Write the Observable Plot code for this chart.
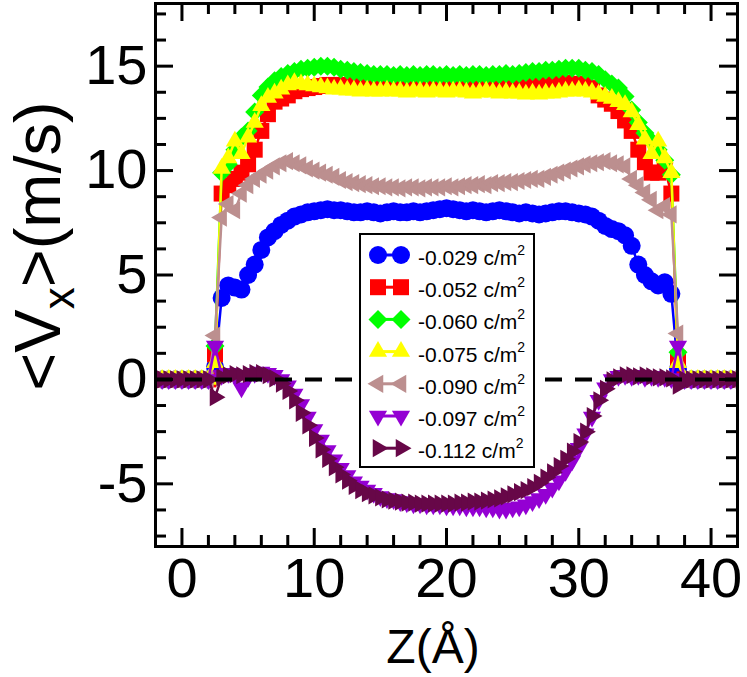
<!DOCTYPE html>
<html>
<head>
<meta charset="utf-8">
<script src="https://cdn.jsdelivr.net/npm/d3@7"></script>
<script src="https://cdn.jsdelivr.net/npm/@observablehq/plot@0.6"></script>
<style>
  body { margin: 0; background: #fff; }
  #chart { width: 747px; height: 677px; }
</style>
</head>
<body>
<div id="chart"></div>
<script>
// ---------- data ----------
const z = [-2,-1.5,-1,-0.5,0,0.5,1,1.5,2,2.5,
  3,3.5,4,4.5,5,5.5,6,6.5,7,7.5,
  8,8.5,9,9.5,10,10.5,11,11.5,12,12.5,
  13,13.5,14,14.5,15,15.5,16,16.5,17,17.5,
  18,18.5,19,19.5,20,20.5,21,21.5,22,22.5,
  23,23.5,24,24.5,25,25.5,26,26.5,27,27.5,
  28,28.5,29,29.5,30,30.5,31,31.5,32,32.5,
  33,33.5,34,34.5,35,35.5,36,36.5,37,37.5,
  38,38.5,39,39.5,40,40.5,41,41.5,42];

const seriesLabels = ["-0.029", "-0.052", "-0.060", "-0.075", "-0.090", "-0.097", "-0.112"];

const v029 = [0,0,0,0,0,0,0,0,0,0.6,
  3.9,4.5,4.4,4.3,5.0,5.5,6.2,6.8,7.1,7.4,
  7.6,7.8,7.9,8.0,8.05,8.1,8.15,8.1,8.1,8.05,
  8.0,8.0,8.05,8.0,7.95,8.0,8.05,8.0,8.0,8.05,
  8.0,8.05,8.1,8.15,8.2,8.15,8.1,8.05,8.1,8.05,
  8.0,8.05,8.1,8.05,8.0,7.95,8.0,7.95,7.9,7.95,
  8.0,8.05,8.05,8.0,7.95,7.9,7.8,7.6,7.35,7.2,
  7.1,6.9,6.4,5.5,5.0,4.7,4.5,4.65,4.1,0.5,
  0,0,0,0,0,0,0,0,0];

const v052 = [0,0,0,0,0,0,0,0,0,1.2,
  8.9,9.3,9.6,9.9,10.3,11.0,11.9,12.7,13.3,13.45,
  13.6,13.8,13.9,13.95,14.0,14.05,14.1,14.1,14.1,14.05,
  14.1,14.1,14.05,14.1,14.1,14.1,14.05,14.1,14.1,14.05,
  14.1,14.1,14.1,14.05,14.1,14.1,14.1,14.05,14.1,14.1,
  14.05,14.1,14.1,14.1,14.15,14.1,14.1,14.15,14.2,14.15,
  14.2,14.2,14.2,14.15,14.15,14.1,13.95,13.6,13.4,13.2,
  12.85,12.4,11.9,11.0,10.4,9.9,9.9,10.1,8.9,1.0,
  0,0,0,0,0,0,0,0,0];

const v060 = [0,0,0,0,0,0,0,0,0,1.6,
  9.9,10.3,11.0,11.6,11.9,12.8,13.6,14.0,14.3,14.5,
  14.65,14.75,14.85,14.9,14.95,15.0,15.0,14.95,14.85,14.8,
  14.75,14.7,14.65,14.6,14.6,14.6,14.55,14.6,14.55,14.6,
  14.55,14.6,14.6,14.55,14.6,14.55,14.6,14.55,14.6,14.6,
  14.55,14.6,14.6,14.65,14.6,14.65,14.7,14.75,14.75,14.8,
  14.8,14.85,14.9,14.9,14.9,14.8,14.75,14.6,14.35,14.15,
  13.95,13.55,12.9,12.3,11.8,11.4,11.0,10.5,9.8,1.3,
  0,0,0,0,0,0,0,0,0];

const v075 = [0,0,0,0,0,0,0,0,0,0.8,
  10.1,10.6,11.4,10.8,11.6,12.3,13.1,13.5,13.7,13.9,
  14.1,14.2,14.15,14.1,14.05,14.0,13.95,13.9,13.9,13.85,
  13.85,13.8,13.85,13.8,13.8,13.85,13.8,13.8,13.75,13.8,
  13.8,13.75,13.8,13.8,13.75,13.8,13.8,13.75,13.7,13.75,
  13.8,13.75,13.7,13.75,13.7,13.7,13.65,13.7,13.65,13.7,
  13.7,13.75,13.8,13.8,13.85,13.8,13.75,13.65,13.55,13.45,
  13.3,13.15,12.8,12.2,11.5,10.8,11.4,10.6,9.9,0.8,
  0,0,0,0,0,0,0,0,0];

const v090 = [0,0,0,0,0,0,0,0,0,2.1,
  7.75,8.4,8.1,8.9,9.3,9.6,9.8,10.0,10.2,10.35,
  10.45,10.35,10.25,10.1,10.0,9.9,9.8,9.7,9.55,9.45,
  9.4,9.35,9.3,9.25,9.25,9.2,9.2,9.15,9.2,9.2,
  9.15,9.2,9.2,9.2,9.25,9.2,9.25,9.3,9.3,9.35,
  9.3,9.4,9.4,9.45,9.45,9.5,9.55,9.6,9.6,9.7,
  9.8,9.9,10.0,10.1,10.2,10.3,10.35,10.4,10.45,10.35,
  10.3,10.2,9.6,9.3,8.95,8.6,8.1,8.3,7.9,2.2,
  0,0,0,0,0,0,0,0,0];

const v097 = [0,0,0,0,0,0,0,0,0,1.6,
  0.2,0.3,0.2,-0.4,0.1,0.3,0.35,0.3,0.2,0.0,
  -0.3,-0.7,-1.2,-1.8,-2.4,-2.9,-3.4,-3.85,-4.25,-4.6,
  -4.9,-5.1,-5.3,-5.45,-5.6,-5.7,-5.75,-5.85,-5.9,-5.95,
  -5.95,-6.0,-6.0,-6.0,-6.05,-6.05,-6.05,-6.1,-6.1,-6.1,
  -6.15,-6.15,-6.2,-6.2,-6.15,-6.1,-6.0,-5.85,-5.7,-5.5,
  -5.2,-4.85,-4.4,-3.9,-3.3,-2.6,-1.8,-1.0,-0.4,0.0,
  0.15,0.2,0.15,0.2,0.1,0.15,0.1,0.1,0.05,1.6,
  0,0,0,0,0,0,0,0,0];

const v112 = [0,0,0,0,0,0,0,0,0,-0.85,
  0.1,0.2,0.25,0.2,0.25,0.3,0.3,0.2,0.05,-0.2,
  -0.55,-1.0,-1.6,-2.2,-2.8,-3.35,-3.8,-4.2,-4.55,-4.85,
  -5.1,-5.3,-5.45,-5.55,-5.65,-5.75,-5.8,-5.85,-5.9,-5.9,
  -5.95,-5.95,-5.95,-5.95,-5.95,-5.95,-5.9,-5.9,-5.85,-5.85,
  -5.8,-5.75,-5.7,-5.6,-5.5,-5.4,-5.3,-5.15,-4.95,-4.7,
  -4.45,-4.15,-3.8,-3.45,-3.0,-2.5,-1.75,-1.0,-0.45,-0.05,
  0.1,0.2,0.2,0.15,0.2,0.15,0.1,0.1,0.05,-0.3,
  0,0,0,0,0,0,0,0,0];

const xMajorTicks = [0, 10, 20, 30, 40];
const xMinorTicks = [2, 4, 6, 8, 12, 14, 16, 18, 22, 24, 26, 28, 32, 34, 36, 38];
const yMajorTicks = [-5, 0, 5, 10, 15];
const yMinorTicks = [-7.5, -6.25, -3.75, -2.5, -1.25, 1.25, 2.5, 3.75, 6.25, 7.5, 8.75, 11.25, 12.5, 13.75, 16.25, 17.5];

// ---------- styles ----------
const W = 747, H = 677;
const mL = 155, mR = 10, mT = 3, mB = 131;
const innerW = W - mL - mR, innerH = H - mT - mB;
const FONT = "Liberation Sans, Arial, Helvetica, sans-serif";

const s3 = Math.sqrt(3) / 2;
function polySym(pts) {
  return { draw(ctx, size) {
    const r = Math.sqrt(size / Math.PI);
    pts.forEach(([a, b], i) => i ? ctx.lineTo(a * r, b * r) : ctx.moveTo(a * r, b * r));
    ctx.closePath();
  }};
}
const symCircle = { draw(ctx, size) { const r = Math.sqrt(size / Math.PI); ctx.moveTo(r, 0); ctx.arc(0, 0, r, 0, 2 * Math.PI); } };
const symSquare = polySym([[-1,-1],[1,-1],[1,1],[-1,1]]);
const symDiamond = polySym([[0,-1],[1,0],[0,1],[-1,0]]);
const symUp = polySym([[0,-1],[s3,0.5],[-s3,0.5]]);
const symDown = polySym([[0,1],[s3,-0.5],[-s3,-0.5]]);
const symLeft = polySym([[-1,0],[0.5,-s3],[0.5,s3]]);
const symRight = polySym([[1,0],[-0.5,-s3],[-0.5,s3]]);

const seriesValues = [v029, v052, v060, v075, v090, v097, v112];
const seriesColors = ["#0000ff", "#ff0000", "#00ff00", "#ffff00", "#bc8f8f", "#9400d3", "#670748"];
const seriesSymbols = [symCircle, symSquare, symDiamond, symUp, symLeft, symDown, symRight];
const seriesR = [9, 8, 9.5, 10.5, 10.5, 10.5, 10.5];

const rows = [];
seriesLabels.forEach((lab, si) => {
  seriesValues[si].forEach((v, i) => rows.push({ z: z[i], v, s: lab }));
});

const marks = [];
seriesLabels.forEach((lab, si) => {
  marks.push(Plot.line(rows, { filter: d => d.s === lab, x: "z", y: "v", stroke: seriesColors[si], strokeWidth: 2.5, clip: true }));
  marks.push(Plot.dot(rows, { filter: d => d.s === lab, x: "z", y: "v", symbol: seriesSymbols[si], r: seriesR[si], fill: seriesColors[si], stroke: "none", clip: true }));
});

marks.push(Plot.ruleY([0], { stroke: "black", strokeWidth: 4, strokeDasharray: "17,13" }));

const tickStyle = { stroke: "black", strokeWidth: 3, strokeLinecap: "butt" };
marks.push(
  Plot.tickX(xMajorTicks, { x: d => d, insetTop: innerH - 18, ...tickStyle }),
  Plot.tickX(xMajorTicks, { x: d => d, insetBottom: innerH - 18, ...tickStyle }),
  Plot.tickX(xMinorTicks, { x: d => d, insetTop: innerH - 11, ...tickStyle }),
  Plot.tickX(xMinorTicks, { x: d => d, insetBottom: innerH - 11, ...tickStyle }),
  Plot.tickY(yMajorTicks, { y: d => d, insetRight: innerW - 18, ...tickStyle }),
  Plot.tickY(yMajorTicks, { y: d => d, insetLeft: innerW - 18, ...tickStyle }),
  Plot.tickY(yMinorTicks, { y: d => d, insetRight: innerW - 11, ...tickStyle }),
  Plot.tickY(yMinorTicks, { y: d => d, insetLeft: innerW - 11, ...tickStyle }),
  Plot.frame({ stroke: "black", strokeWidth: 3 }),
  Plot.axisX(xMajorTicks, { tickSize: 0, tickPadding: 11, fontSize: 56, tickFormat: d => String(d), label: null }),
  Plot.axisY(yMajorTicks, { tickSize: 0, tickPadding: 8, fontSize: 56, tickFormat: d => String(d), label: null })
);

const chart = Plot.plot({
  width: W, height: H,
  marginLeft: mL, marginRight: mR, marginTop: mT, marginBottom: mB,
  style: { fontFamily: FONT, background: "white", color: "black", overflow: "visible" },
  x: { domain: [-2, 42] },
  y: { domain: [-8, 18] },
  marks
});
document.getElementById("chart").appendChild(chart);

// ---------- titles and legend ----------
const svg = d3.select(chart.tagName.toLowerCase() === "svg" ? chart : chart.querySelector("svg"));

svg.append("text")
  .attr("x", 433).attr("y", 663)
  .attr("text-anchor", "middle")
  .attr("font-family", FONT).attr("font-size", 48).attr("fill", "black")
  .text("Z(Å)");

const yt = svg.append("text")
  .attr("transform", "translate(60,246) rotate(-90)")
  .attr("text-anchor", "middle")
  .attr("font-family", FONT).attr("font-size", 65).attr("fill", "black");
yt.append("tspan").text("<V");
yt.append("tspan").attr("font-size", 44).attr("dy", 14).text("x");
yt.append("tspan").attr("dy", -14).text(">(m/s)");

const lg = svg.append("g");
lg.append("rect")
  .attr("x", 360).attr("y", 234).attr("width", 174).attr("height", 233)
  .attr("fill", "white").attr("stroke", "black").attr("stroke-width", 2);
seriesLabels.forEach((lab, si) => {
  const cy = 255 + si * 32.2;
  lg.append("line").attr("x1", 378).attr("x2", 401).attr("y1", cy).attr("y2", cy)
    .attr("stroke", seriesColors[si]).attr("stroke-width", 3);
  [378, 401].forEach(cx => {
    const p = d3.path();
    seriesSymbols[si].draw(p, seriesR[si] * seriesR[si] * Math.PI);
    lg.append("path").attr("d", p.toString()).attr("transform", `translate(${cx},${cy})`)
      .attr("fill", seriesColors[si]);
  });
  const t = lg.append("text").attr("x", 418).attr("y", cy + 10)
    .attr("text-anchor", "start")
    .attr("font-family", FONT).attr("font-size", 21).attr("fill", "black");
  t.append("tspan").text(lab + " c/m");
  t.append("tspan").attr("font-size", 14).attr("dy", -10).text("2");
});
</script>
</body>
</html>
